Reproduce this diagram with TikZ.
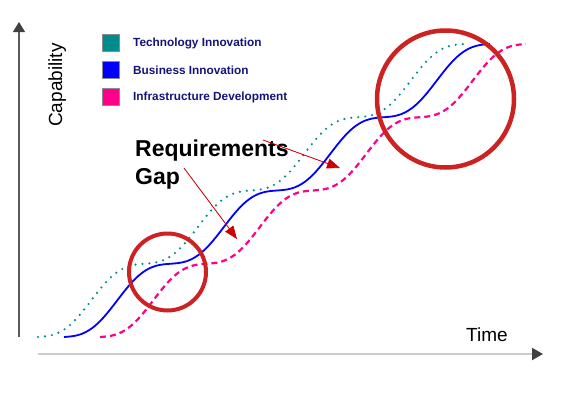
\documentclass[tikz,border=0pt]{standalone}
\usepackage{fontspec}
\setmainfont{Liberation Sans}
\usetikzlibrary{arrows.meta}

\definecolor{techteal}{RGB}{0,140,140}
\definecolor{busblue}{RGB}{0,0,255}
\definecolor{infpink}{RGB}{255,0,140}
\definecolor{ringred}{RGB}{204,34,34}
\definecolor{legnavy}{RGB}{20,20,120}

\def\stairs#1{plot[domain=0:4,samples=121,smooth] ({#1+106.5*\x},{337-73.25*(\x-0.9*sin(360*\x)/(2*pi))})}
\def\smallring{(167.5,272) circle (38.5pt)}
\def\bigring{(445.5,99) circle (68.5pt)}

\begin{document}
\begin{tikzpicture}[x=1pt,y=-1pt,
    legbox/.style={draw=black!45,line width=0.6pt,minimum size=17pt,inner sep=0pt},
    legtext/.style={anchor=west,inner sep=0pt,text=legnavy,font=\fontsize{11.8}{13}\selectfont\bfseries},
    gaparrow/.style={draw=red!80!black,line width=0.8pt,-{Triangle[length=13pt,width=10pt]},fill=red!80!black}]

	\useasboundingbox (0,0) rectangle (562,397);

	% axes
	\coordinate (yBot) at (19,337);
	\coordinate (yTop) at (19,22);
	\coordinate (xLeft) at (38,354);
	\coordinate (xRight) at (543,354);
	\draw[black!65,line width=1.2pt,-{Triangle[length=10pt,width=12pt,color=black!75]}] (yBot) -- (yTop);
	\draw[black!20,line width=2pt,-{Triangle[length=11pt,width=12pt,color=black!75]}] (xLeft) -- (xRight);

	\node[rotate=90,anchor=base west,inner sep=0pt,font=\fontsize{19}{22}\selectfont] (capLabel) at (62,127) {Capability};
	\node[anchor=base west,inner sep=0pt,font=\fontsize{19}{22}\selectfont] (timeLabel) at (466,341) {Time};

	% legend
	\node[legbox,fill=techteal] (tiSq) at (110.5,43) {};
	\node[legbox,fill=busblue] (biSq) at (110.5,69.5) {};
	\node[legbox,fill=infpink] (idSq) at (110.5,96.5) {};
	\node[legtext] (tiText) at (133,43) {Technology Innovation};
	\node[legtext] (biText) at (133,70) {Business Innovation};
	\node[legtext] (idText) at (133,97) {Infrastructure Development};

	% curves
	\draw[techteal,line width=2.4pt,line cap=round,dash pattern=on 0pt off 7pt] \stairs{38};
	\draw[infpink,line width=2.2pt,dash pattern=on 6pt off 4pt] \stairs{100};
	\draw[busblue,line width=1.8pt] \stairs{64};

	% gap
	\draw[ringred,line width=4pt] \smallring;
	\draw[ringred,line width=4.5pt] \bigring;

	\node[anchor=north west,inner sep=0pt,align=left,font=\fontsize{23}{28}\selectfont\bfseries] (gapLabel) at (135,140) {Requirements\\Gap};

	\coordinate (reqTail) at (263,140);
	\coordinate (reqTip) at (340,168);
	\coordinate (gapTail) at (184,168);
	\coordinate (gapTip) at (237,239);
	\draw[gaparrow] (reqTail) -- (reqTip);
	\draw[gaparrow] (gapTail) -- (gapTip);
\end{tikzpicture}
\end{document}
